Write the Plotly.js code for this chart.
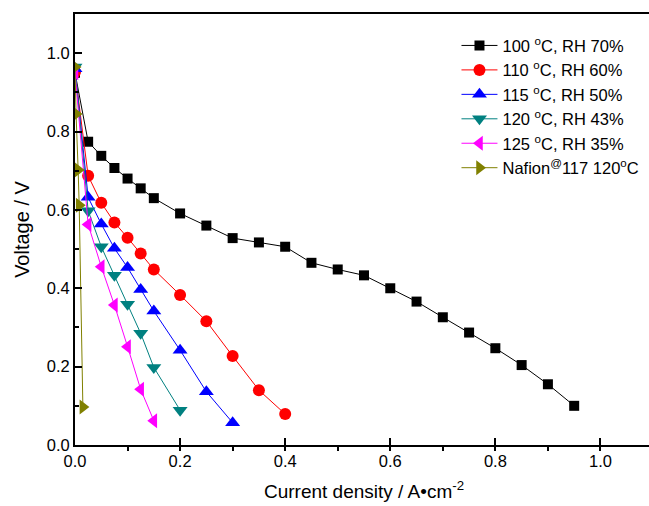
<!DOCTYPE html>
<html><head><meta charset="utf-8">
<script src="https://cdn.plot.ly/plotly-3.0.1.min.js"></script>
<style>html,body{margin:0;padding:0;overflow:hidden;background:#fff}</style>
</head><body>
<div id="chart" style="width:653px;height:506px"></div>
<script>
const names = ["100 <sup>o</sup>C, RH 70%","110 <sup>o</sup>C, RH 60%","115 <sup>o</sup>C, RH 50%","120 <sup>o</sup>C, RH 43%","125 <sup>o</sup>C, RH 35%","Nafion<sup>@</sup>117 120<sup>o</sup>C"];
const x100 = [0,0.025,0.05,0.075,0.1,0.125,0.15,0.2,0.25,0.3,0.35,0.4,0.45,0.5,0.55,0.6,0.65,0.7,0.75,0.8,0.85,0.9,0.95];
const y100 = [0.95,0.774,0.738,0.707,0.680,0.655,0.630,0.591,0.560,0.528,0.517,0.506,0.465,0.448,0.433,0.400,0.366,0.326,0.287,0.247,0.204,0.155,0.100];
const x110 = [0,0.025,0.05,0.075,0.1,0.125,0.15,0.2,0.25,0.3,0.35,0.4];
const y110 = [0.952,0.687,0.618,0.568,0.529,0.489,0.448,0.383,0.316,0.227,0.140,0.079];
const x115 = [0,0.025,0.05,0.075,0.1,0.125,0.15,0.2,0.25,0.3];
const y115 = [0.96,0.632,0.564,0.502,0.453,0.397,0.342,0.242,0.136,0.057];
const x120 = [0,0.025,0.05,0.075,0.1,0.125,0.15,0.2];
const y120 = [0.965,0.598,0.506,0.433,0.359,0.285,0.198,0.089];
const x125 = [0,0.025,0.05,0.075,0.1,0.125,0.15];
const y125 = [0.95,0.563,0.455,0.357,0.251,0.142,0.062];
const xNaf = [0,0.002,0.006,0.008,0.015];
const yNaf = [0.965,0.845,0.702,0.612,0.097];
const colors = ["#000000","#FF0000","#0000FF","#008080","#FF00FF","#808000"];
const symbols = ["square","circle","triangle-up","triangle-down","triangle-left","triangle-right"];
const sizes = [10,12,13,13,13,13];
const xs = [x100,x110,x115,x120,x125,xNaf];
const ys = [y100,y110,y115,y120,y125,yNaf];
const traces = xs.map((x,i)=>({
  x:x, y:ys[i], name:names[i], type:'scatter', mode:'lines+markers',
  line:{color:colors[i], width:1},
  marker:{symbol:symbols[i], color:colors[i], size:sizes[i]}
}));
const layout = {
  width:653, height:506,
  margin:{l:75, r:0, t:14, b:61},
  paper_bgcolor:'#fff', plot_bgcolor:'#fff',
  font:{family:'"Liberation Sans", Arial, sans-serif', color:'#000', size:16},
  showlegend:true,
  legend:{x:0.66, y:0.967, xanchor:'left', yanchor:'top', bgcolor:'rgba(0,0,0,0)', font:{size:16.5}, tracegroupgap:0, itemwidth:36},
  xaxis:{range:[0,1.1], showgrid:false, zeroline:false, showline:true, linewidth:2, linecolor:'#000', mirror:true,
    tickmode:'linear', tick0:0, dtick:0.2, tickformat:'.1f', ticks:'inside', ticklen:7, tickwidth:2, tickcolor:'#000',
    minor:{dtick:0.1, ticks:'outside', ticklen:4, tickwidth:2, tickcolor:'#000'},
    tickfont:{size:16.5},
    title:{text:'Current density / A\u2022cm<sup>-2</sup>', font:{size:19}, standoff:16}},
  yaxis:{range:[0,1.1], showgrid:false, zeroline:false, showline:true, linewidth:2, linecolor:'#000',
    tickmode:'linear', tick0:0, dtick:0.2, tickformat:'.1f', ticks:'inside', ticklen:7, tickwidth:2, tickcolor:'#000',
    minor:{dtick:0.1, ticks:'inside', ticklen:4, tickwidth:2, tickcolor:'#000'},
    tickfont:{size:16.5},
    title:{text:'Voltage / V', font:{size:20}, standoff:12}}
};
Plotly.newPlot('chart', traces, layout, {displayModeBar:false, staticPlot:true});
</script>
</body></html>
